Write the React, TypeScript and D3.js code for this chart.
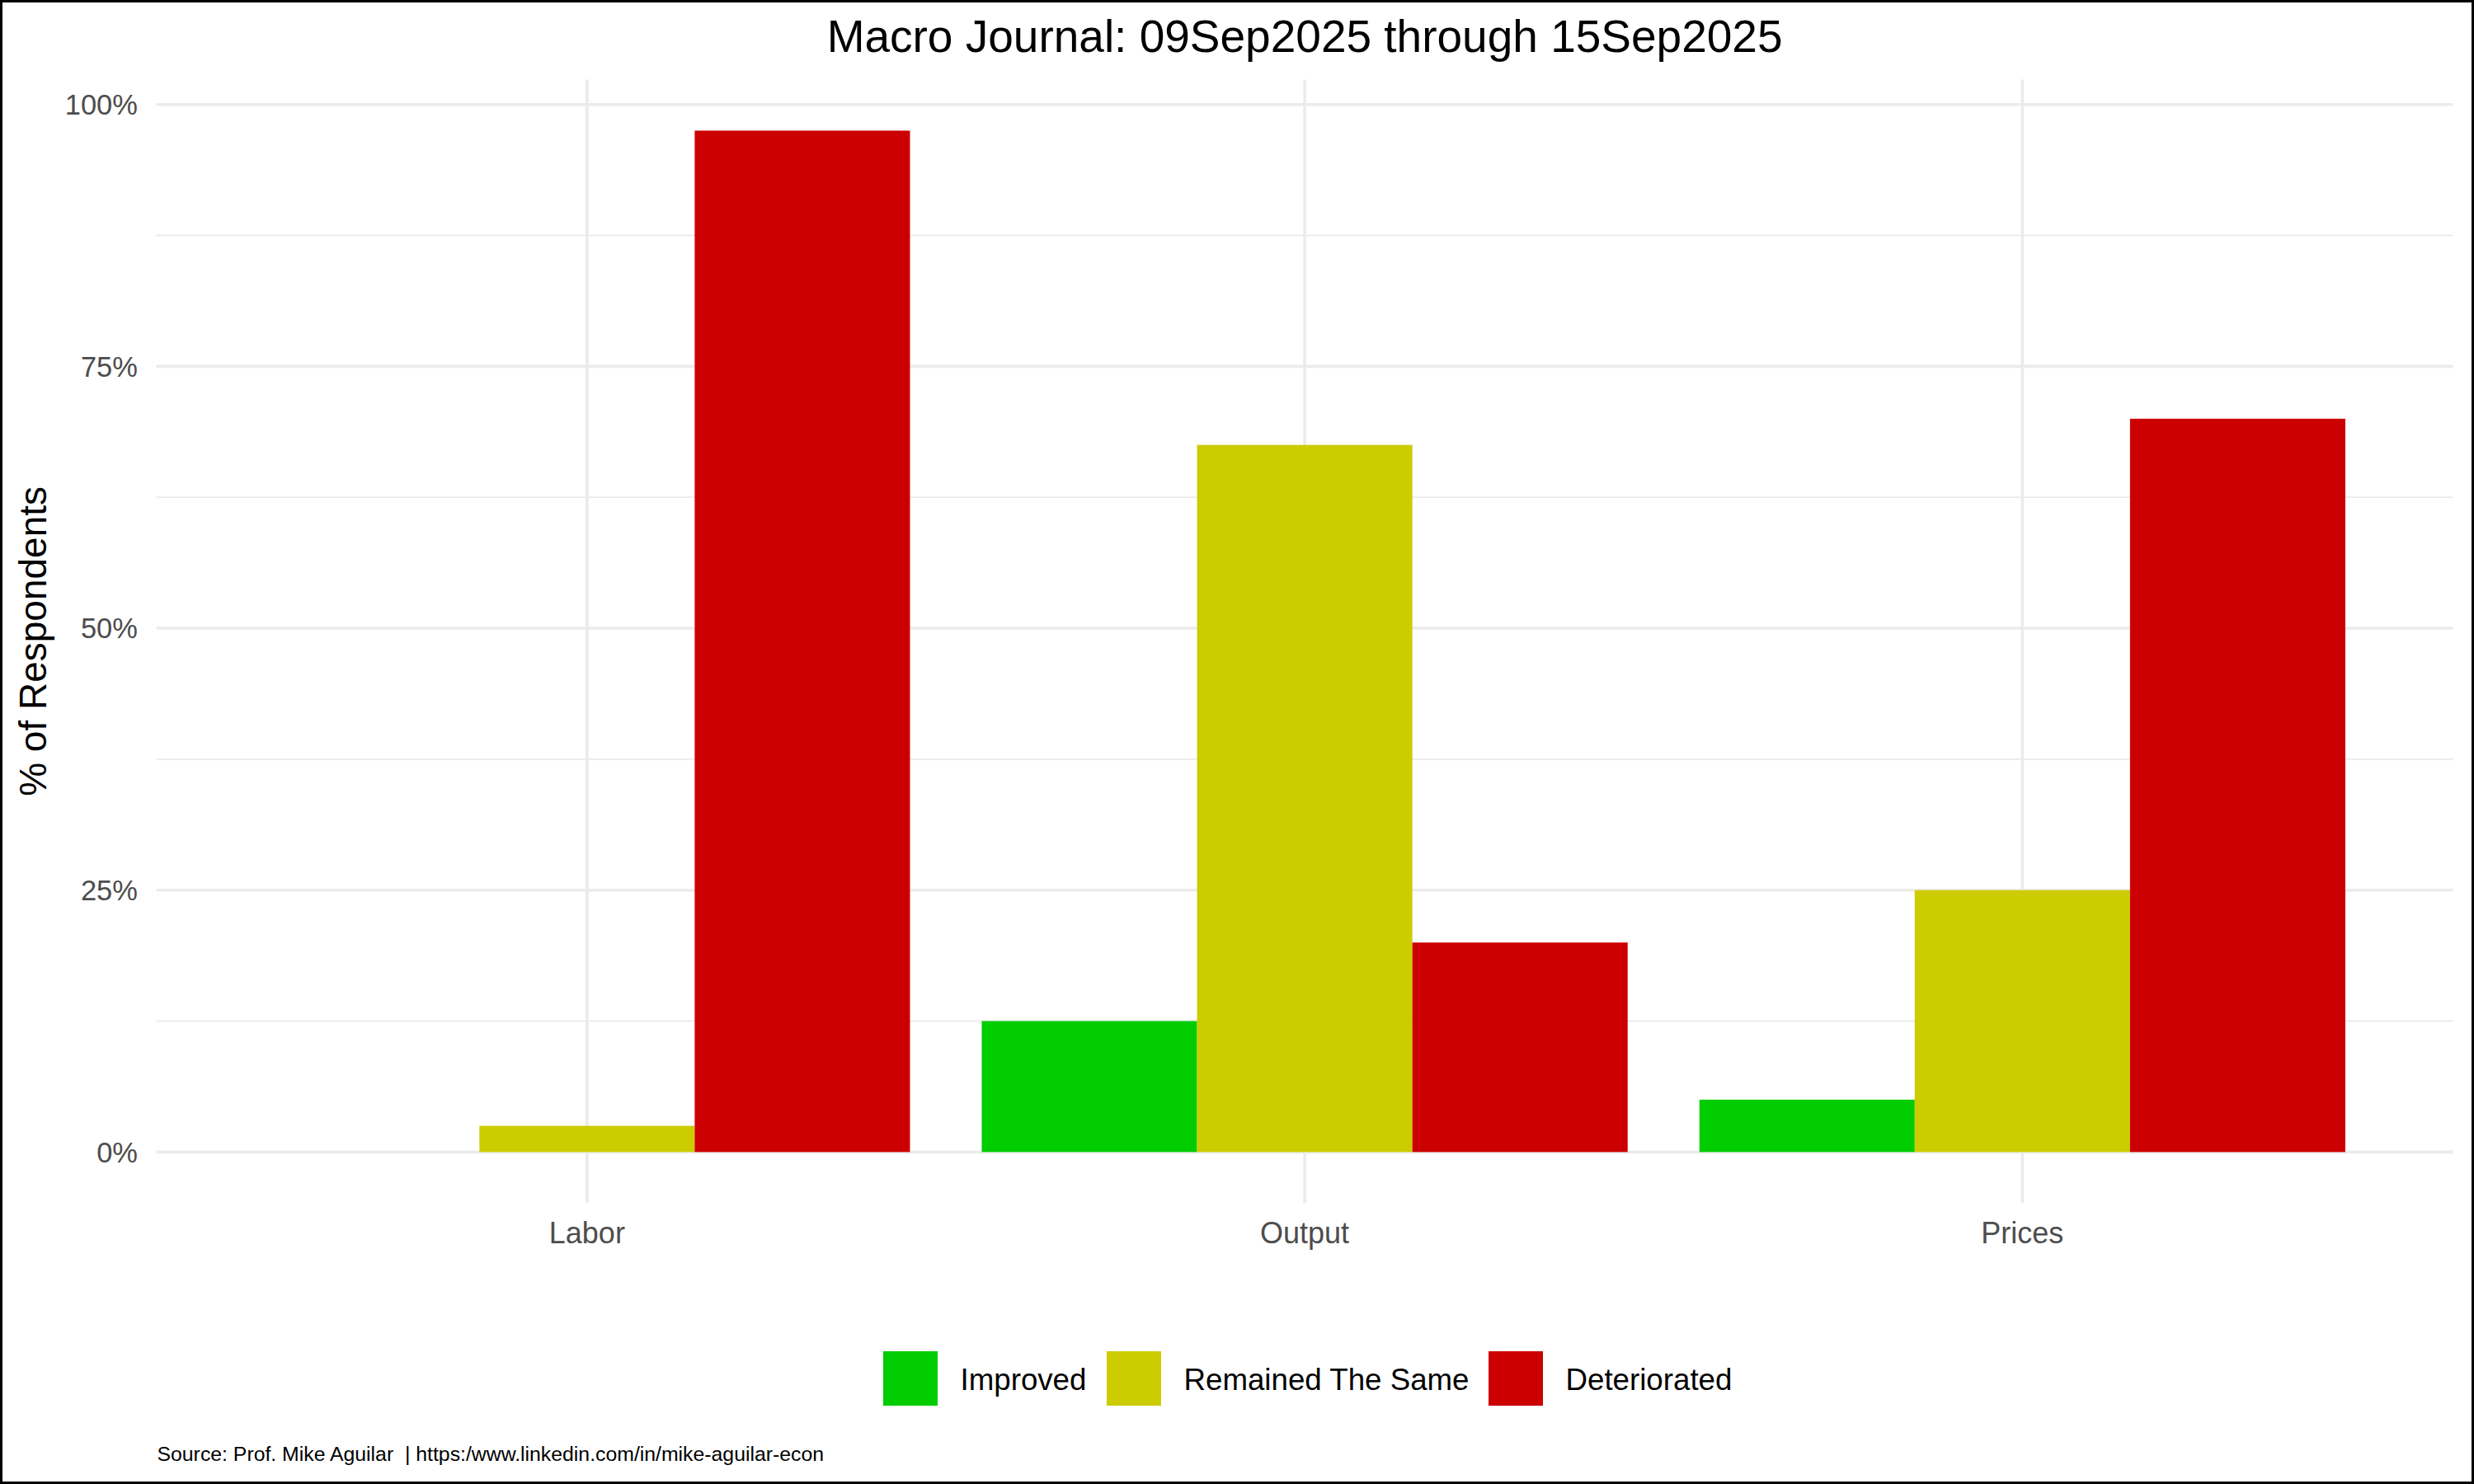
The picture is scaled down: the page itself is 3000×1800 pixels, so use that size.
import * as d3 from "d3";

const categories = ["Labor", "Output", "Prices"];
const seriesNames = ["Improved", "Remained The Same", "Deteriorated"];
const seriesColors = ["#00CC00", "#CCCC00", "#CC0000"];

// share of respondents per category, one array per series
const improved = [0, 0.125, 0.05];
const remainedSame = [0.025, 0.675, 0.25];
const deteriorated = [0.975, 0.2, 0.7];

const majorTicks = [0, 0.25, 0.5, 0.75, 1];
const minorTicks = [0.125, 0.375, 0.625, 0.875];

const title = "Macro Journal: 09Sep2025 through 15Sep2025";
const yTitle = "% of Respondents";
const caption = "Source: Prof. Mike Aguilar  | https:/www.linkedin.com/in/mike-aguilar-econ";

const W = 3000;
const H = 1800;
const font = "'Liberation Sans', Arial, sans-serif";
const gridColor = "#EBEBEB";

export default function App() {
    const seriesValues = [improved, remainedSame, deteriorated];
    const rows = categories.map((cat, i) => ({
        cat,
        values: seriesNames.map((name, s) => ({ name, value: seriesValues[s][i], color: seriesColors[s] })),
    }));

    const panel = { left: 189.7, right: 2974.5, top: 96.5, bottom: 1459.3 };

    const x = d3
        .scaleBand<string>()
        .domain(categories)
        .range([panel.left, panel.right])
        .paddingInner(0.1)
        .paddingOuter(0.15);

    const xInner = d3.scaleBand<string>().domain(seriesNames).range([0, x.bandwidth()]);

    const yMax = d3.max(seriesValues.flat()) || 1;
    const pad = yMax * 0.05;
    const y = d3.scaleLinear().domain([-pad, yMax + pad]).range([panel.bottom, panel.top]);

    const fmt = d3.format(".0%");

    // legend layout
    const keySize = 66;
    const legendY = 1639;
    const legendX = [1071, 1342, 1805];

    return (
        <svg
            width={W}
            height={H}
            viewBox={`0 0 ${W} ${H}`}
            style={{ position: "absolute", left: 0, top: 0, background: "#fff" }}
            fontFamily={font}
        >
            <rect x={0} y={0} width={W} height={H} fill="#fff" />

            {/* grid */}
            {minorTicks.map((t) => (
                <line key={`mn-${t}`} x1={panel.left} x2={panel.right} y1={y(t)} y2={y(t)} stroke={gridColor} strokeWidth={1.8} />
            ))}
            {majorTicks.map((t) => (
                <line key={`mj-${t}`} x1={panel.left} x2={panel.right} y1={y(t)} y2={y(t)} stroke={gridColor} strokeWidth={3.6} />
            ))}
            {categories.map((c) => {
                const cx = (x(c) || 0) + x.bandwidth() / 2;
                return <line key={`v-${c}`} x1={cx} x2={cx} y1={panel.top} y2={panel.bottom} stroke={gridColor} strokeWidth={3.6} />;
            })}

            {/* bars */}
            {rows.map((r) => (
                <g key={r.cat} transform={`translate(${x(r.cat)},0)`}>
                    {r.values.map((v) => (
                        <rect
                            key={v.name}
                            x={xInner(v.name)}
                            y={y(v.value)}
                            width={xInner.bandwidth()}
                            height={y(0) - y(v.value)}
                            fill={v.color}
                        />
                    ))}
                </g>
            ))}

            {/* y axis labels */}
            {majorTicks.map((t) => (
                <text key={`yl-${t}`} x={167} y={y(t)} dy="0.36em" textAnchor="end" fontSize={34.5} fill="#4D4D4D">
                    {fmt(t)}
                </text>
            ))}

            {/* x axis labels */}
            {categories.map((c) => (
                <text key={`xl-${c}`} x={(x(c) || 0) + x.bandwidth() / 2} y={1508} textAnchor="middle" fontSize={36} fill="#4D4D4D">
                    {c}
                </text>
            ))}

            {/* y title */}
            <text
                transform={`translate(56,${(panel.top + panel.bottom) / 2}) rotate(-90)`}
                textAnchor="middle"
                fontSize={46}
                fill="#000"
            >
                {yTitle}
            </text>

            {/* title */}
            <text x={(panel.left + panel.right) / 2} y={62.7} textAnchor="middle" fontSize={55} fill="#000">
                {title}
            </text>

            {/* legend */}
            {seriesNames.map((name, i) => (
                <g key={`lg-${name}`}>
                    <rect x={legendX[i]} y={legendY} width={keySize} height={keySize} fill={seriesColors[i]} />
                    <text x={legendX[i] + keySize + 27.5} y={1685.7} fontSize={36.7} fill="#000">
                        {name}
                    </text>
                </g>
            ))}

            {/* caption */}
            <text x={190.5} y={1772} fontSize={24.8} fill="#000" style={{ whiteSpace: "pre" }}>
                {caption}
            </text>

            {/* outer frame */}
            <rect x={1.5} y={1.5} width={W - 3} height={H - 3} fill="none" stroke="#000" strokeWidth={3} />
        </svg>
    );
}
